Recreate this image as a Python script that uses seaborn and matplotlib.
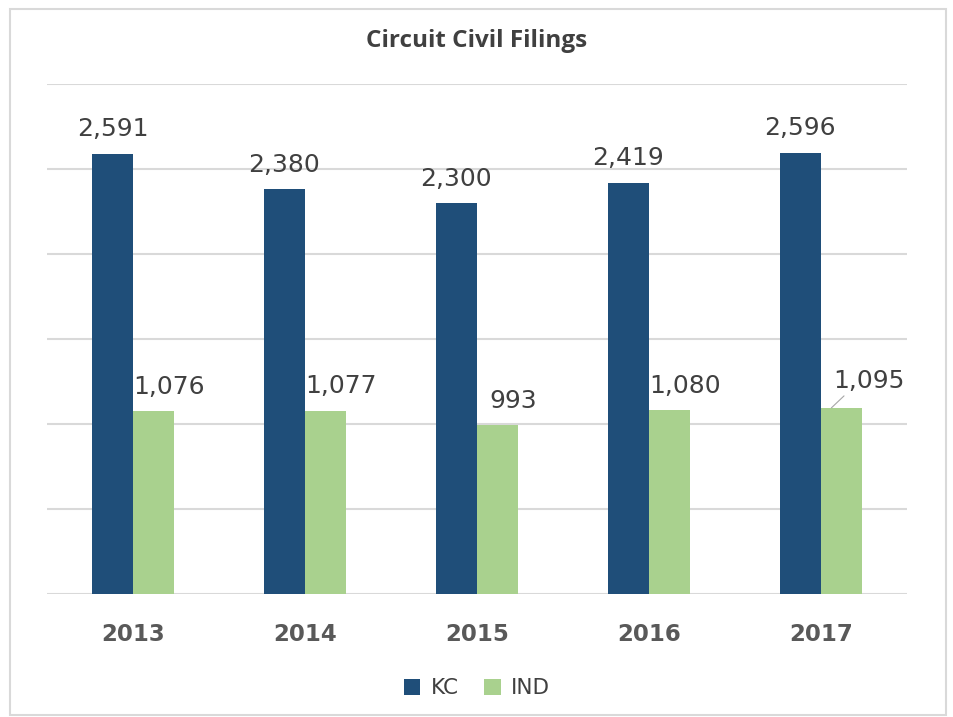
import pandas as pd
import seaborn as sns
import matplotlib.pyplot as plt
from matplotlib.patches import Rectangle

# Data
years = ["2013", "2014", "2015", "2016", "2017"]
kc = [2591, 2380, 2300, 2419, 2596]
ind = [1076, 1077, 993, 1080, 1095]
series = ["KC", "IND"]
colors = ["#1F4E79", "#A9D18E"]

df = pd.DataFrame({"year": years * 2,
                   "filings": kc + ind,
                   "court": [series[0]] * len(years) + [series[1]] * len(years)})

sns.set_style("white")
plt.rcParams['font.family'] = ['DejaVu Sans']

fig = plt.figure(figsize=(9.54, 7.17), dpi=100)
ax = fig.add_axes([0.0493, 0.1715, 0.9015, 0.7113])

sns.barplot(data=df, x="year", y="filings", hue="court", palette=colors,
            width=0.48, gap=0, ax=ax, saturation=1, legend=True,
            linewidth=0, edgecolor="none")

ax.set_ylim(0, 3000)
ax.set_yticks(range(0, 3001, 500))
ax.yaxis.grid(True, color="#d9d9d9", linewidth=1.5)
ax.set_axisbelow(True)
ax.tick_params(axis="y", left=False, labelleft=False)
ax.tick_params(axis="x", bottom=False, pad=17)
for lbl in ax.get_xticklabels():
    lbl.set_fontsize(16.5)
    lbl.set_fontweight("bold")
    lbl.set_color("#595959")
ax.set_xlabel("")
ax.set_ylabel("")
sns.despine(ax=ax, left=True, bottom=True, top=True, right=True)

# value labels: KC centred, IND nudged right as in the original
kc_bars, ind_bars = ax.containers[0], ax.containers[1]
ax.bar_label(kc_bars, labels=[f"{v:,.0f}" for v in kc_bars.datavalues],
             padding=9, fontsize=18, color="#404040")
for i, (bar, v) in enumerate(zip(ind_bars, ind_bars.datavalues)):
    x = bar.get_x() + bar.get_width() / 2
    if i == len(ind) - 1:
        # last label sits higher with a leader line
        ax.annotate(f"{v:,.0f}", xy=(x - 0.06, v), xytext=(27, 11),
                    textcoords="offset points", ha="center", va="bottom",
                    fontsize=18, color="#404040",
                    arrowprops=dict(arrowstyle="-", color="#a6a6a6", lw=0.8,
                                    shrinkA=0, shrinkB=0, relpos=(0.2, 0)))
    else:
        ax.annotate(f"{v:,.0f}", xy=(x, v), xytext=(11, 9),
                    textcoords="offset points", ha="center", va="bottom",
                    fontsize=18, color="#404040")

ax.set_title("Circuit Civil Filings", fontsize=17.5, fontweight="bold",
             color="#404040", pad=27, family=["Open Sans", "DejaVu Sans"])

ax.legend(loc="upper center", bbox_to_anchor=(0.5, -0.127), ncol=2, frameon=False,
          fontsize=15.5, handlelength=0.75, handleheight=0.75, columnspacing=1.2,
          handletextpad=0.5, labelcolor="#404040")

fig.patches.append(Rectangle((0.0105, 0.0028), 0.981, 0.9846, transform=fig.transFigure,
                             fill=False, edgecolor="#d9d9d9", linewidth=1.5))

fig.savefig("out.png", dpi=100)
